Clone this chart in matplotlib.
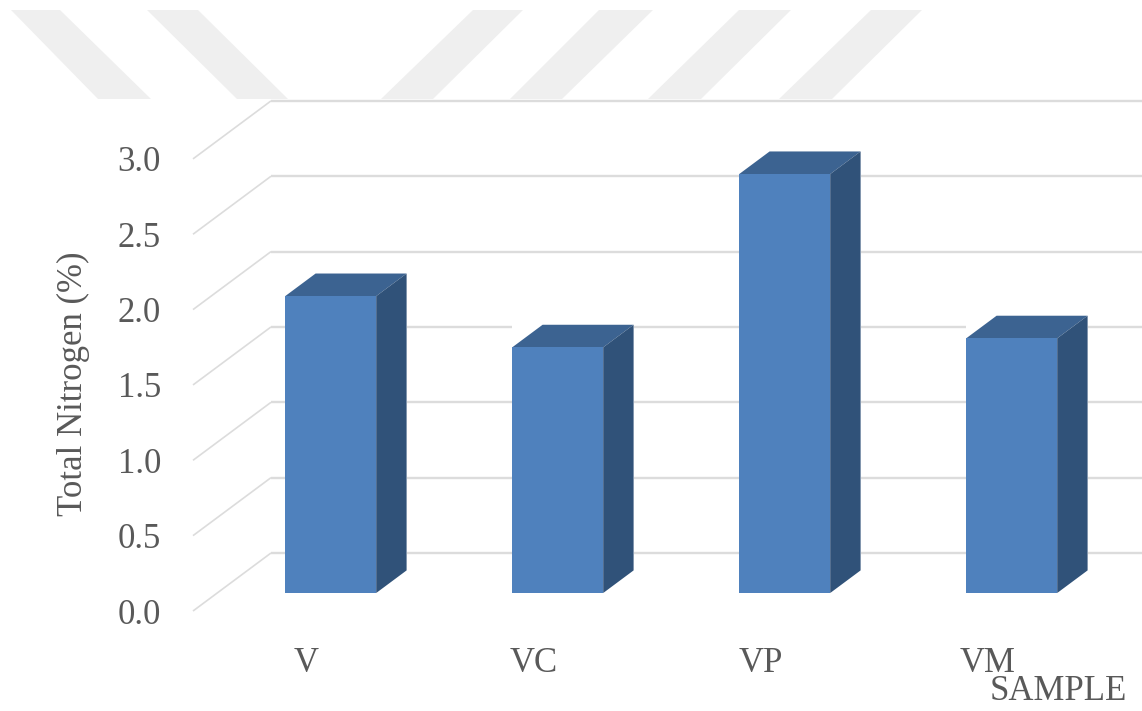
import matplotlib
matplotlib.use('Agg')
import matplotlib.pyplot as plt
from matplotlib.patches import Polygon

# Data
samples = ['V', 'VC', 'VP', 'VM']
nitrogen = [1.97, 1.63, 2.78, 1.69]
y_ticks = [0.0, 0.5, 1.0, 1.5, 2.0, 2.5, 3.0]

W, H = 1142, 711
TEXT = '#595959'
GRID = '#dcdcdc'
FRONT = '#4f81bd'
TOP = '#3c6391'
SIDE = '#305279'
STRIPE = '#efefef'

# fake 3D: wall offset and where the bar sits in the depth, in data units
X_UNIT = 227.0  # px per category
Y_UNIT = 150.7  # px per 1 %
WALL_DX = 78 / X_UNIT
WALL_DY = 58 / Y_UNIT
BAR_FRONT = 0.31
BAR_BACK = 0.70
BAR_W = 91 / X_UNIT

plt.rcParams['font.family'] = ['Liberation Serif', 'DejaVu Serif']

fig = plt.figure(figsize=(W / 100, H / 100), dpi=100)

# axes origin sits on the front 0.0 point, x to the figure edge
left, bottom, top = 193, 611, 10
ax = fig.add_axes([left / W, 1 - bottom / H, (W - left) / W, (bottom - top) / H])
ax.set_xlim(-0.5, (W - left) / X_UNIT - 0.5)
ax.set_ylim(0, (bottom - top) / Y_UNIT)
ax.patch.set_visible(False)
for s in ax.spines.values():
    s.set_visible(False)

# watermark stripes at the top (figure pixels: top left, top right, bottom right, bottom left)
stripes = [
    [(11, 10), (60, 10), (151, 99), (98, 99)],
    [(147, 10), (198, 10), (288, 99), (237, 99)],
    [(473, 10), (523, 10), (433, 99), (381, 99)],
    [(599, 10), (653, 10), (562, 99), (510, 99)],
    [(739, 10), (791, 10), (701, 99), (648, 99)],
    [(871, 10), (922, 10), (832, 99), (779, 99)],
]
for st in stripes:
    pts = [(x / W, 1 - y / H) for x, y in st]
    fig.add_artist(Polygon(pts, closed=True, fc=STRIPE, ec='none', transform=fig.transFigure, zorder=0))

# floor stubs and back wall gridlines
x0 = -0.5
x_end = x0 + len(samples) + 1
for t in y_ticks:
    ax.plot([x0, x0 + WALL_DX], [t, t + WALL_DY], color=GRID, lw=1.2, zorder=1, clip_on=False,
            solid_capstyle='butt')
    ax.plot([x0 + WALL_DX, x_end], [t + WALL_DY, t + WALL_DY], color=GRID, lw=1.7, zorder=1,
            clip_on=False, solid_capstyle='butt')

# bars
for i, v in enumerate(nitrogen):
    xl = i - BAR_W / 2 + BAR_FRONT * WALL_DX
    xr = xl + BAR_W
    y0 = BAR_FRONT * WALL_DY
    y1 = v + y0
    dx = (BAR_BACK - BAR_FRONT) * WALL_DX
    dy = (BAR_BACK - BAR_FRONT) * WALL_DY
    # white box behind the bar, the gridlines stop at its corner in the original
    ax.add_patch(Polygon([(xl, y0), (xr + dx, y0), (xr + dx, y1 + dy), (xl, y1 + dy)],
                         fc='white', ec='none', zorder=2))
    ax.add_patch(Polygon([(xl, y0), (xr, y0), (xr, y1), (xl, y1)], fc=FRONT, ec='none', zorder=4))
    ax.add_patch(Polygon([(xl, y1), (xr, y1), (xr + dx, y1 + dy), (xl + dx, y1 + dy)],
                         fc=TOP, ec='none', zorder=3))
    ax.add_patch(Polygon([(xr, y0), (xr + dx, y0 + dy), (xr + dx, y1 + dy), (xr, y1)],
                         fc=SIDE, ec='none', zorder=3))

# axis text
ax.set_xticks(range(len(samples)))
ax.set_xticklabels(samples)
ax.set_yticks(y_ticks)
ax.set_yticklabels([f'{t:.1f}' for t in y_ticks], va='center_baseline')
ax.tick_params(axis='x', length=0, pad=26, labelsize=25, labelcolor=TEXT)
ax.tick_params(axis='y', length=0, pad=23, labelsize=25, labelcolor=TEXT)

ax.set_ylabel('Total Nitrogen (%)', fontsize=25, color=TEXT, va='center')
ax.yaxis.set_label_coords((73 - left) / (W - left), (bottom - 384) / (bottom - top))
ax.set_xlabel('SAMPLE', fontsize=25, color=TEXT, va='center', ha='center')
ax.xaxis.set_label_coords((1058 - left) / (W - left), (bottom - 692) / (bottom - top))

fig.savefig('out.png', dpi=100)
